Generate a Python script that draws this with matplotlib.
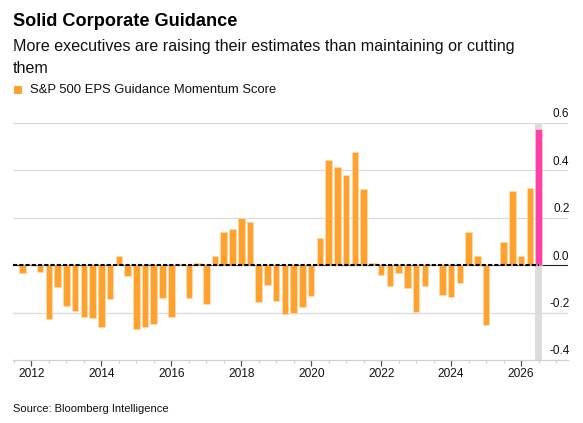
import numpy as np
import pandas as pd
import matplotlib
matplotlib.use("Agg")
import matplotlib.pyplot as plt
import matplotlib.dates as mdates
from matplotlib.lines import Line2D
from matplotlib.markers import MarkerStyle

plt.rcParams['font.family'] = ['Liberation Sans', 'DejaVu Sans']

# ----------------------------------------------------------------------
# Data (quarterly)
# ----------------------------------------------------------------------
quarter_start = pd.date_range('2011-10-01', periods=60, freq='QS')
score = [-0.032,
         0.0, -0.030, -0.225, -0.094,      # 2012
         -0.172, -0.193, -0.218, -0.223,   # 2013
         -0.261, -0.142, 0.039, -0.046,    # 2014
         -0.270, -0.262, -0.249, -0.138,   # 2015
         -0.220, 0.003, -0.137, 0.011,     # 2016
         -0.162, 0.039, 0.138, 0.152,      # 2017
         0.201, 0.183, -0.154, -0.082,     # 2018
         -0.152, -0.206, -0.201, -0.176,   # 2019
         -0.128, 0.114, 0.442, 0.414,      # 2020
         0.380, 0.479, 0.323, 0.008,       # 2021
         -0.041, -0.087, -0.032, -0.097,   # 2022
         -0.199, -0.087, 0.003, -0.124,    # 2023
         -0.134, -0.075, 0.138, 0.037,     # 2024
         -0.252, 0.0, 0.097, 0.314,        # 2025
         0.038, 0.324, 0.573]              # 2026
y_ticks = [-0.4, -0.2, 0.0, 0.2, 0.4, 0.6]

orange = '#ffa12e'
pink = '#ff40a8'

W, H = 583, 423
fig = plt.figure(figsize=(W / 100, H / 100), dpi=100)

def fx(px):
    return px / W

def fy(py):
    return 1 - py / H

ax = fig.add_axes([fx(13), fy(360), fx(568) - fx(13), fy(123) - fy(360)])

colors = [orange] * (len(score) - 1) + [pink]
bar_w = 67  # days
ax.bar(quarter_start, score, width=bar_w, color=colors, edgecolor='#ffe0b8',
       linewidth=0.4, zorder=3)

# highlight band behind the latest quarter
last = quarter_start[-1]
ax.axvspan(last - pd.Timedelta(days=39), last + pd.Timedelta(days=39),
           color='#dcdcdc', zorder=1, lw=0)

xmin = pd.Timestamp('2011-06-23')
xmax = pd.Timestamp('2027-05-05')
ax.set_xlim(xmin, xmax)
ax.set_ylim(-0.4, 0.6)

# gridlines
for v in y_ticks[1:]:
    if v == 0.0:
        continue
    ax.axhline(v, color='#dadada', lw=0.9, zorder=0)
ax.axhline(0, color='#222222', lw=0.8, zorder=2)
ax.plot([xmin, last], [0, 0], color='black', lw=1.5, ls=(0, (2, 1)), zorder=4)

# y labels sitting on top of the gridlines at the right
for v in y_ticks:
    ax.annotate(f'{v:.1f}', xy=(1.0, v), xycoords=('axes fraction', 'data'),
                xytext=(1, 4), textcoords='offset points',
                ha='right', va='baseline', fontsize=8.5, color='#111111')

ax.set_yticks([])
for s in ['top', 'left', 'right']:
    ax.spines[s].set_visible(False)
ax.spines['bottom'].set_color('#cfcfcf')
ax.spines['bottom'].set_linewidth(0.9)

ax.xaxis.set_major_locator(mdates.YearLocator(2))
ax.xaxis.set_major_formatter(mdates.DateFormatter('%Y'))
ax.xaxis.set_minor_locator(mdates.MonthLocator(bymonth=[1, 7]))
ax.tick_params(axis='x', which='major', length=4, width=0.9, color='#555555',
               labelsize=8.6, pad=2, labelcolor='#111111')
ax.tick_params(axis='x', which='minor', length=2.5, width=0.8, color='#cccccc')

# ----------------------------------------------------------------------
# Titles, legend, source
# ----------------------------------------------------------------------
fig.text(fx(13), fy(25.7), 'Solid Corporate Guidance', fontsize=13.1,
         fontweight='bold', va='baseline', ha='left', color='black')
fig.text(fx(13), fy(73.3),
         'More executives are raising their estimates than maintaining or cutting\nthem',
         fontsize=11.6, va='baseline', ha='left', color='#111111', linespacing=1.64)

fig.add_artist(Line2D([fx(18)], [fy(90)], marker=MarkerStyle('s', joinstyle='round'),
                      markersize=5, markeredgewidth=1.5, color=orange,
                      transform=fig.transFigure))
fig.text(fx(30), fy(93.3), 'S&P 500 EPS Guidance Momentum Score', fontsize=9.4,
         va='baseline', ha='left', color='#111111')

fig.text(fx(13), fy(411.5), 'Source: Bloomberg Intelligence', fontsize=8.0,
         va='baseline', ha='left', color='#111111')

fig.savefig('out.png', dpi=100)
